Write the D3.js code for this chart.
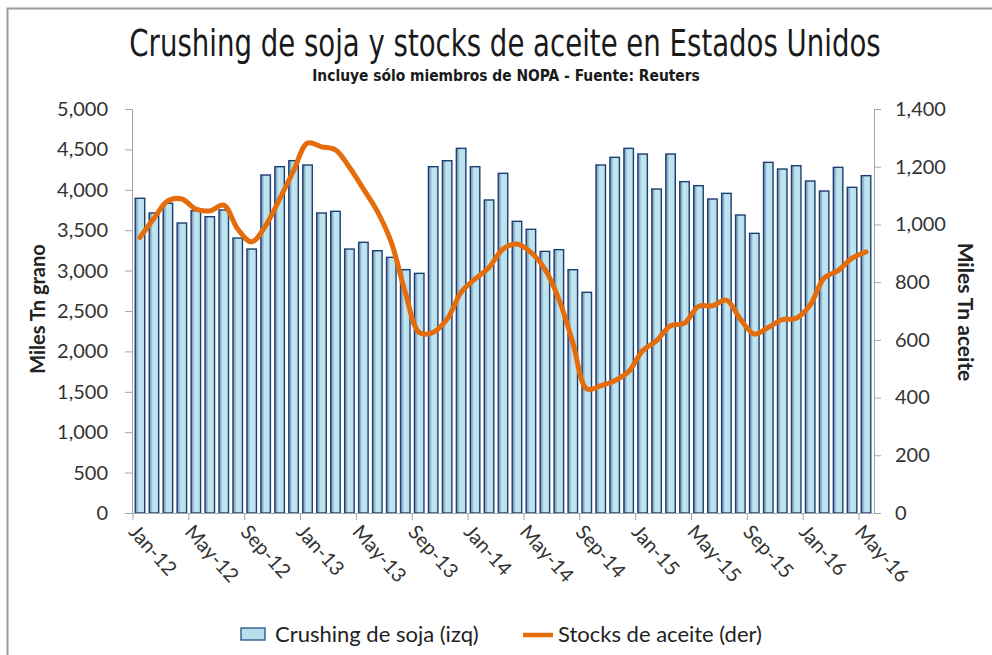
<!DOCTYPE html>
<html>
<head>
<meta charset="utf-8">
<script src="https://cdn.jsdelivr.net/npm/d3@7"></script>
<style>
    body { margin: 0; background: #fff; }
    svg { display: block; }
</style>
</head>
<body>
<svg id="chart" width="992" height="655"></svg>
<script>
// months shown on the category axis
const months = [
    "Jan-12","Feb-12","Mar-12","Apr-12","May-12","Jun-12","Jul-12","Aug-12","Sep-12","Oct-12","Nov-12","Dec-12",
    "Jan-13","Feb-13","Mar-13","Apr-13","May-13","Jun-13","Jul-13","Aug-13","Sep-13","Oct-13","Nov-13","Dec-13",
    "Jan-14","Feb-14","Mar-14","Apr-14","May-14","Jun-14","Jul-14","Aug-14","Sep-14","Oct-14","Nov-14","Dec-14",
    "Jan-15","Feb-15","Mar-15","Apr-15","May-15","Jun-15","Jul-15","Aug-15","Sep-15","Oct-15","Nov-15","Dec-15",
    "Jan-16","Feb-16","Mar-16","Apr-16","May-16"
];

// Crushing de soja (izq) - miles tn
const crushing = [
    3895, 3713, 3833, 3589, 3741, 3667, 3750, 3403, 3267, 4183, 4286, 4360,
    4307, 3713, 3734, 3267, 3350, 3246, 3164, 3011, 2966, 4286, 4360, 4513,
    4286, 3874, 4204, 3610, 3511, 3238, 3259, 3011, 2731, 4307, 4402, 4513,
    4443, 4010, 4443, 4101, 4051, 3886, 3956, 3688, 3461, 4340, 4257, 4298,
    4109, 3985, 4278, 4031, 4175
];

// Stocks de aceite (der) - miles tn
const stocks = [
    955, 1021, 1082, 1088, 1053, 1047, 1067, 984, 940, 996, 1088, 1186,
    1282, 1269, 1258, 1198, 1123, 1045, 938, 765, 626, 626, 672, 765,
    811, 851, 915, 932, 903, 845, 741, 591, 430, 441, 458, 490,
    562, 597, 649, 658, 716, 718, 738, 672, 620, 643, 670, 675,
    721, 814, 840, 883, 905
];

const leftTicks = d3.range(0, 5001, 500);
const rightTicks = d3.range(0, 1401, 200);
const labelEvery = 4;

const title = "Crushing de soja y stocks de aceite en Estados Unidos";
const subtitle = "Incluye sólo miembros de NOPA - Fuente: Reuters";

const svg = d3.select("#chart");
const plot = {left: 133, right: 873, top: 109, bottom: 513};

const narrow = "'DejaVu Sans Condensed', 'Liberation Sans Narrow', sans-serif";
const body = "Lato, 'Open Sans', sans-serif";

// outer frame (only left/top edges visible in the original)
svg.append("rect")
    .attr("x", 7.5).attr("y", 8.5)
    .attr("width", 1000).attr("height", 700)
    .attr("fill", "none").attr("stroke", "#9a9a9a").attr("stroke-width", 2);

const x = d3.scaleBand()
    .domain(months)
    .range([plot.left, plot.right])
    .paddingInner(0.32)
    .paddingOuter(0.16);

const yLeft = d3.scaleLinear().domain([0, 5000]).range([plot.bottom, plot.top]);
const yRight = d3.scaleLinear().domain([0, 1400]).range([plot.bottom, plot.top]);

const defs = svg.append("defs");
const grad = defs.append("linearGradient").attr("id", "barFill")
    .attr("x1", "0%").attr("x2", "100%").attr("y1", "0%").attr("y2", "0%");
grad.append("stop").attr("offset", "0%").attr("stop-color", "#7092b8");
grad.append("stop").attr("offset", "25%").attr("stop-color", "#9cbfd6");
grad.append("stop").attr("offset", "38%").attr("stop-color", "#c2e6f0");
grad.append("stop").attr("offset", "100%").attr("stop-color", "#b6dfeb");

// bars
svg.append("g")
    .selectAll("rect")
    .data(crushing)
    .join("rect")
    .attr("x", (d, i) => x(months[i]))
    .attr("y", d => yLeft(d))
    .attr("width", x.bandwidth())
    .attr("height", d => yLeft(0) - yLeft(d))
    .attr("fill", "url(#barFill)")
    .attr("stroke", "#1d3e72")
    .attr("stroke-width", 1.4);

// left axis
const axL = svg.append("g")
    .attr("transform", `translate(${plot.left - 1},0)`)
    .call(d3.axisLeft(yLeft).tickValues(leftTicks).tickSize(7).tickPadding(17).tickFormat(d3.format(",")));
axL.select(".domain").attr("stroke", "#a6a6a6");
axL.selectAll(".tick line").attr("stroke", "#a6a6a6");
axL.selectAll("text").attr("fill", "#333").style("font", `20px ${body}`);

// right axis
const axR = svg.append("g")
    .attr("transform", `translate(${plot.right + 1},0)`)
    .call(d3.axisRight(yRight).tickValues(rightTicks).tickSize(7).tickPadding(14).tickFormat(d3.format(",")));
axR.select(".domain").attr("stroke", "#a6a6a6");
axR.selectAll(".tick line").attr("stroke", "#a6a6a6");
axR.selectAll("text").attr("fill", "#333").style("font", `20px ${body}`);

// bottom axis: ticks at band boundaries every 4 months
const gap = (x.step() - x.bandwidth()) / 2;
const labelled = months.filter((m, i) => i % labelEvery === 0);
const bottom = svg.append("g");
bottom.append("line")
    .attr("x1", plot.left).attr("x2", plot.right)
    .attr("y1", plot.bottom + 0.5).attr("y2", plot.bottom + 0.5)
    .attr("stroke", "#a6a6a6");
bottom.selectAll("line.tk")
    .data(labelled)
    .join("line")
    .attr("class", "tk")
    .attr("x1", d => x(d) - gap)
    .attr("x2", d => x(d) - gap)
    .attr("y1", plot.bottom).attr("y2", plot.bottom + 7)
    .attr("stroke", "#a6a6a6");
bottom.selectAll("text")
    .data(labelled)
    .join("text")
    .attr("transform", d => `translate(${x(d) + x.bandwidth() / 2 - 7},${plot.bottom + 15}) rotate(48)`)
    .attr("dy", "0.35em")
    .attr("fill", "#333")
    .style("font", `20px ${body}`)
    .text(d => d);

// line
const line = d3.line()
    .x((d, i) => x(months[i]) + x.bandwidth() / 2)
    .y(d => yRight(d))
    .curve(d3.curveCatmullRom.alpha(0.5));

svg.append("path")
    .datum(stocks)
    .attr("d", line)
    .attr("fill", "none")
    .attr("stroke", "#e46c0a")
    .attr("stroke-width", 5)
    .attr("stroke-linejoin", "round")
    .attr("stroke-linecap", "round");

// titles: tall condensed look, squeezed horizontally to the original width
function squeeze(sel, cx, cy, targetWidth) {
    const w = sel.node().getComputedTextLength();
    const k = Math.min(1, targetWidth / w);
    sel.attr("transform", `translate(${cx},${cy}) scale(${k.toFixed(3)},1)`);
}

const titleText = svg.append("text")
    .attr("text-anchor", "middle")
    .attr("fill", "#1a1a1a")
    .style("font", `37px ${narrow}`)
    .text(title);
squeeze(titleText, 505, 56, 752);

const subText = svg.append("text")
    .attr("text-anchor", "middle")
    .attr("fill", "#1a1a1a")
    .style("font", `bold 16px ${narrow}`)
    .text(subtitle);
squeeze(subText, 506, 81, 388);

// axis titles
svg.append("text")
    .attr("transform", "translate(38,309) rotate(-90)")
    .attr("dy", "0.35em")
    .attr("text-anchor", "middle")
    .style("font", `bold 20px ${body}`)
    .attr("fill", "#222")
    .text("Miles Tn grano");

svg.append("text")
    .attr("transform", "translate(965,312) rotate(90)")
    .attr("dy", "0.35em")
    .attr("text-anchor", "middle")
    .style("font", `bold 21px ${body}`)
    .attr("fill", "#222")
    .text("Miles Tn aceite");

// legend
const lg = svg.append("g").attr("transform", "translate(0,634)");
lg.append("rect")
    .attr("x", 241).attr("y", -6).attr("width", 24).attr("height", 12)
    .attr("fill", "#b7deea").attr("stroke", "#2f5a8a").attr("stroke-width", 1.4);
lg.append("text")
    .attr("x", 275).attr("dy", "0.35em")
    .style("font", `22px ${body}`).attr("fill", "#222")
    .text("Crushing de soja (izq)");
lg.append("line")
    .attr("x1", 523).attr("x2", 553).attr("y1", 1).attr("y2", 1)
    .attr("stroke", "#e46c0a").attr("stroke-width", 4.5);
lg.append("text")
    .attr("x", 558).attr("dy", "0.35em")
    .style("font", `22px ${body}`).attr("fill", "#222")
    .text("Stocks de aceite (der)");
</script>
</body>
</html>
